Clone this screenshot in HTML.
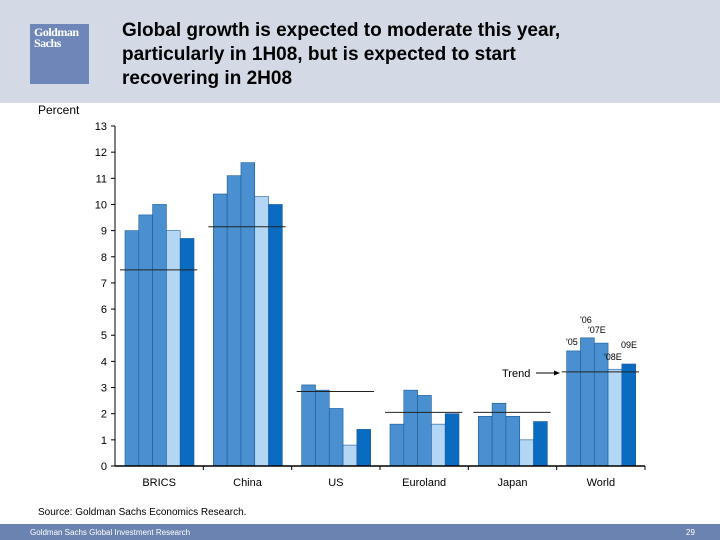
<!DOCTYPE html>
<html><head><meta charset="utf-8"><style>
body{margin:0;width:720px;height:540px;position:relative;background:#fff;font-family:"Liberation Sans",Arial,sans-serif;overflow:hidden}
#hdr{position:absolute;left:0;top:0;width:720px;height:103px;background:#d3dae6}
#logo{position:absolute;left:30px;top:24px;width:59px;height:60px;background:#6f86b8;color:#fff;font-family:"Liberation Serif",serif;font-weight:bold;font-size:12px;line-height:11px;padding:3px 0 0 4px;box-sizing:border-box;letter-spacing:-0.5px}
#title{position:absolute;left:122px;top:19px;font-size:19px;font-weight:bold;line-height:24px;color:#000}
#pct{position:absolute;left:38px;top:103px;font-size:12px}
#src{position:absolute;left:38px;top:507px;font-size:10px}
#ftr{position:absolute;left:0;top:524px;width:720px;height:16px;background:#6b83b0;color:#fff;font-size:8px}
</style></head><body>
<div id="hdr"></div>
<div id="logo">Goldman<br>Sachs</div>
<div id="title">Global growth is expected to moderate this year,<br>particularly in 1H08, but is expected to start<br>recovering in 2H08</div>
<div id="pct">Percent</div>
<svg id="chart" width="720" height="540" style="position:absolute;left:0;top:0" xmlns="http://www.w3.org/2000/svg"></svg>
<div id="src">Source: Goldman Sachs Economics Research.</div>
<div id="ftr"><span style="position:absolute;left:30px;top:4px">Goldman Sachs Global Investment Research</span><span style="position:absolute;left:686px;top:4px">29</span></div>
<script>
const categories=["BRICS","China","US","Euroland","Japan","World"];
const s05=[9.0,10.4,3.1,1.6,1.9,4.4];
const s06=[9.6,11.1,2.9,2.9,2.4,4.9];
const s07=[10.0,11.6,2.2,2.7,1.9,4.7];
const s08=[9.0,10.3,0.8,1.6,1.0,3.7];
const s09=[8.7,10.0,1.4,2.0,1.7,3.9];
const trend=[7.5,9.15,2.85,2.05,2.05,3.6];
const yTicks=[0,1,2,3,4,5,6,7,8,9,10,11,12,13];
const series=[s05,s06,s07,s08,s09];
const colors=["#4a90d0","#4a90d0","#4a90d0","#b2d6f3","#0a6cc0"];
const X0=115,X1=645,Y0=466,Y13=126;
const cw=(X1-X0)/categories.length;
const y=v=>Y0-(v/13)*(Y0-Y13);
const xc=i=>X0+i*cw;
const svg=document.getElementById('chart');
const NS="http://www.w3.org/2000/svg";
function mk(t,a){const e=document.createElementNS(NS,t);for(const k in a)e.setAttribute(k,a[k]);svg.appendChild(e);return e;}
const bw=13.8;
categories.forEach((c,i)=>{
  series.forEach((s,j)=>{
    const r=mk('rect',{x:xc(i)+10+j*bw,y:y(s[i]),width:bw,height:Y0-y(s[i]),fill:colors[j],stroke:"#1a5a9a","stroke-width":0.6});
    
    
  });
  const l=mk('line',{x1:xc(i)+5,x2:xc(i)+cw-6,y1:y(trend[i]),y2:y(trend[i]),stroke:"#222","stroke-width":1});
  
  
  const t=mk('text',{x:xc(i)+cw/2,y:486,"font-size":11,"text-anchor":"middle","font-family":"Liberation Sans, sans-serif"});
  t.textContent=c;
  
  
  mk('line',{x1:xc(i+1),x2:xc(i+1),y1:Y0,y2:Y0+4,stroke:"#000"});
});
mk('line',{x1:X0,x2:X0,y1:Y13,y2:Y0,stroke:"#000"});
mk('line',{x1:X0,x2:X1,y1:Y0,y2:Y0,stroke:"#000","stroke-width":1.5});
yTicks.forEach(v=>{
  mk('line',{x1:X0-4,x2:X0,y1:y(v),y2:y(v),stroke:"#000"});
  const t=mk('text',{x:107,y:y(v)+4,"font-size":11,"text-anchor":"end","font-family":"Liberation Sans, sans-serif"});
  t.textContent=v;
  
  
});
const ann=[["'06",580,323],["'07E",588,333],["'05",566,345],["09E",621,348],["'08E",604,360]];
ann.forEach(a=>{const t=mk('text',{x:a[1],y:a[2],"font-size":9,"font-family":"Liberation Sans, sans-serif"});t.textContent=a[0];

});
const tr=mk('text',{x:502,y:377,"font-size":11,"font-family":"Liberation Sans, sans-serif"});tr.textContent="Trend";


mk('line',{x1:536,x2:556,y1:373,y2:373,stroke:"#000"});
mk('polygon',{points:"560,373 554,370.5 554,375.5",fill:"#000"});
</script>
</body></html>
